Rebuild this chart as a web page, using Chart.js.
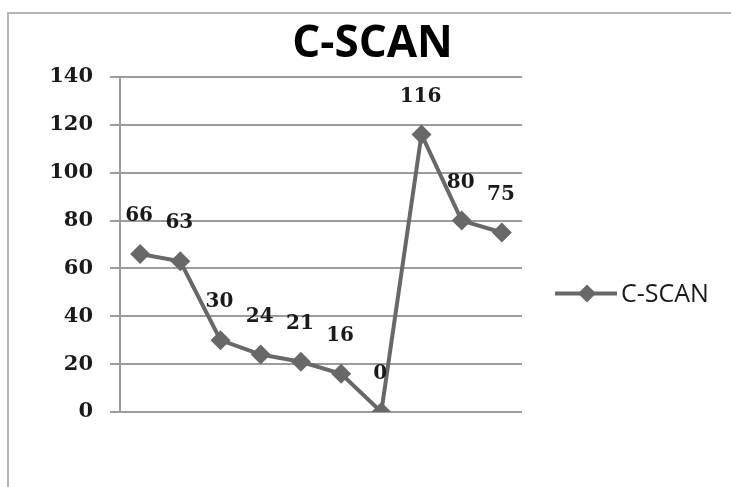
<!DOCTYPE html>
<html>
<head>
<meta charset="utf-8">
<script src="https://cdn.jsdelivr.net/npm/chart.js@4.4.1/dist/chart.umd.min.js"></script>
<style>
  html, body { margin: 0; padding: 0; background: #fff; overflow: hidden; }
  #wrap { position: relative; width: 731px; height: 487px; overflow: hidden; }
  #frame {
    position: absolute; left: 7px; top: 12px; width: 800px; height: 600px;
    border-left: 2px solid #b4b4b4; border-top: 2px solid #b4b4b4;
  }
  #c { position: absolute; left: 0; top: 0; }
</style>
</head>
<body>
<div id="wrap">
  <div id="frame"></div>
  <canvas id="c" width="731" height="487"></canvas>
</div>
<script>
// ---------- DATA ----------
const title = "C-SCAN";
const seriesName = "C-SCAN";
const categories = ["1", "2", "3", "4", "5", "6", "7", "8", "9", "10"];
const values = [66, 63, 30, 24, 21, 16, 0, 116, 80, 75];
const yTicks = [0, 20, 40, 60, 80, 100, 120, 140];

// ---------- STYLE ----------
const lineGrey = "#686868";
const gridGrey = "#9c9c9c";
const textDark = "#1a1a1a";

// title, data labels and legend drawn on the canvas
const decor = {
  id: "decor",
  afterDatasetsDraw(chart) {
    const { ctx } = chart;
    const meta = chart.getDatasetMeta(0);
    ctx.save();
    ctx.font = "bold 20px 'DejaVu Serif'";
    ctx.fillStyle = textDark;
    ctx.textAlign = "center";
    ctx.textBaseline = "middle";
    meta.data.forEach((pt, i) => {
      ctx.fillText(String(values[i]), pt.x - 1, pt.y - 38);
    });
    ctx.restore();
  },
  afterDraw(chart) {
    const { ctx, chartArea } = chart;
    ctx.save();
    // title
    ctx.font = "bold 44px 'Open Sans'";
    ctx.fillStyle = "#000";
    ctx.textAlign = "center";
    ctx.textBaseline = "middle";
    ctx.fillText(title, chart.width / 2 + 7, 44);

    // legend: line with a diamond, then the series name
    const lx = chartArea.right + 33;
    const ly = (chartArea.top + chartArea.bottom) / 2 + 49;
    ctx.strokeStyle = lineGrey;
    ctx.lineWidth = 4;
    ctx.beginPath();
    ctx.moveTo(lx, ly);
    ctx.lineTo(lx + 62, ly);
    ctx.stroke();
    ctx.fillStyle = lineGrey;
    ctx.beginPath();
    ctx.moveTo(lx + 32, ly - 9);
    ctx.lineTo(lx + 41, ly);
    ctx.lineTo(lx + 32, ly + 9);
    ctx.lineTo(lx + 23, ly);
    ctx.closePath();
    ctx.fill();
    ctx.font = "25px 'Open Sans'";
    ctx.fillStyle = textDark;
    ctx.textAlign = "left";
    ctx.fillText(seriesName, lx + 66, ly + 1);
    ctx.restore();
  }
};

new Chart(document.getElementById("c"), {
  type: "line",
  data: {
    labels: categories,
    datasets: [{
      label: seriesName,
      data: values,
      borderColor: lineGrey,
      backgroundColor: lineGrey,
      borderWidth: 4,
      pointStyle: "rectRot",
      pointRadius: 10,
      pointHoverRadius: 10,
      pointBorderWidth: 0,
      tension: 0
    }]
  },
  options: {
    responsive: false,
    animation: false,
    events: [],
    layout: { padding: { left: 48, right: 209, top: 77, bottom: 75 } },
    plugins: {
      legend: { display: false },
      title: { display: false },
      tooltip: { enabled: false }
    },
    scales: {
      x: {
        type: "category",
        offset: true,
        display: false
      },
      y: {
        min: yTicks[0],
        max: yTicks[yTicks.length - 1],
        afterBuildTicks: s => { s.ticks = yTicks.map(v => ({ value: v })); },
        afterFit: s => { s.width = 72; },
        grid: { color: gridGrey, lineWidth: 2, tickLength: 10 },
        border: { color: gridGrey, width: 2 },
        ticks: {
          padding: 17,
          color: textDark,
          font: { family: "'DejaVu Serif'", size: 21, weight: "bold" }
        }
      }
    }
  },
  plugins: [decor]
});
</script>
</body>
</html>
